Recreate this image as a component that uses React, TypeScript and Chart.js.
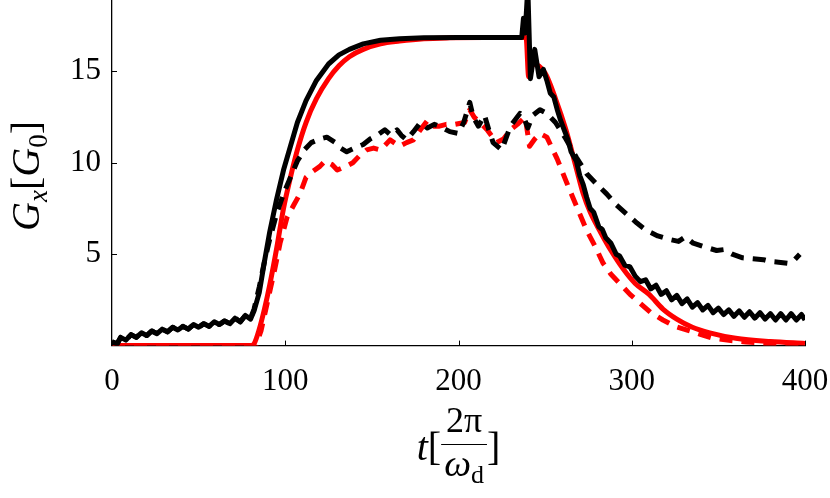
import React, { useEffect, useRef } from "react";
import { Chart, registerables } from "chart.js";

Chart.register(...registerables);

const xTicks = [0, 100, 200, 300, 400];
const yTicks = [5, 10, 15];
const xMin = 0;
const xMax = 400;
const yMin = 0;
const yMax = 18.9;

const blackSolidT = [
  0, 3, 5, 8, 11, 14, 17, 20, 23, 26, 29, 32, 35, 38, 41, 44, 47, 50, 53, 56, 59, 62, 65, 68, 71, 74, 77, 80,
  82, 85, 88, 91, 95, 99, 103, 107, 112, 118, 125, 131, 137, 145, 155, 166, 180, 200, 220, 236.5,
  237.5, 238.5, 240, 241.5, 244, 246.5, 249, 251, 253, 255, 257, 259, 261, 263, 265, 268, 270, 272, 274,
  276, 278, 281, 283, 285, 288, 291, 293, 296, 299,
  302, 305, 308, 311, 314, 317, 320, 323, 326, 329, 332, 335, 338, 341, 344, 347, 350, 353, 356, 359,
  362, 365, 368, 371, 374, 377, 380, 383, 386, 389, 392, 395, 398, 400,
];
const blackSolidV = [
  0.2, 0.1, 0.45, 0.3, 0.6, 0.45, 0.7, 0.55, 0.8, 0.65, 0.9, 0.75, 1.0, 0.85, 1.05, 0.9, 1.15, 1.0, 1.2, 1.05, 1.3, 1.15, 1.35, 1.2, 1.5, 1.3, 1.65, 1.45,
  1.9, 2.9, 4.6, 6.2, 8.0, 9.6, 10.9, 12.2, 13.4, 14.5, 15.4, 15.9, 16.2, 16.5, 16.7, 16.78, 16.83, 16.85, 16.85, 16.85,
  17.9, 17.1, 19.6, 14.6, 16.2, 14.7, 15.1, 14.5, 13.8, 13.6, 12.9, 12.3, 11.8, 11.3, 10.6, 10.1, 9.3, 8.8, 8.1,
  7.5, 7.3, 6.5, 6.35, 5.9, 5.6, 5.0, 4.9, 4.4, 4.3,
  3.8, 3.5, 3.6, 3.1, 3.3, 2.8, 3.0, 2.5, 2.75, 2.3, 2.55, 2.1, 2.35, 1.95, 2.2, 1.8, 2.05, 1.7, 1.95, 1.6,
  1.9, 1.55, 1.85, 1.5, 1.8, 1.45, 1.75, 1.4, 1.75, 1.4, 1.75, 1.4, 1.7, 1.4,
];

const redSolidT = [
  0, 80, 82, 85, 88, 91, 95, 99, 103, 107, 112, 118, 125, 131, 137, 145, 155, 166, 180, 195, 215, 239,
  240.5, 243, 250, 256, 262, 268, 272, 276, 282, 288, 295, 302, 310, 318, 326, 335, 345, 360, 380, 400,
];
const redSolidV = [
  0, 0, 0.1, 0.9, 2.0, 3.3, 5.3, 7.5, 9.2, 10.7, 12.2, 13.5, 14.6, 15.3, 15.8, 16.2, 16.5, 16.65, 16.78, 16.83, 16.85, 16.85,
  14.7, 15.4, 14.9, 13.5, 11.8, 9.7, 8.3, 7.3, 6.2, 5.2, 4.2, 3.4, 2.8, 2.0, 1.45, 1.0, 0.7, 0.4, 0.22, 0.12,
];

const blackDashedT = [
  0, 3, 5, 8, 11, 14, 17, 20, 23, 26, 29, 32, 35, 38, 41, 44, 47, 50, 53, 56, 59, 62, 65, 68, 71, 74, 77, 80,
  82, 85, 88, 91, 95, 99, 103, 107, 111, 115, 120, 124, 129, 132, 135.5, 140, 145, 149, 153, 157.5, 161,
  164.5, 167, 170, 174, 178, 182, 186, 189, 195, 200, 203, 206.5, 208.5, 211.5, 215, 217.5, 220, 225, 228,
  230, 235.5, 238, 240, 243, 247, 251, 256, 262, 268, 274, 280, 285.5, 291, 297, 303, 308.5, 315, 322,
  327, 331, 335.5, 342, 349, 353, 358, 364, 370, 376, 380, 386, 390, 393, 397,
];
const blackDashedV = [
  0.2, 0.1, 0.45, 0.3, 0.6, 0.45, 0.7, 0.55, 0.8, 0.65, 0.9, 0.75, 1.0, 0.85, 1.05, 0.9, 1.15, 1.0, 1.2, 1.05, 1.3, 1.15, 1.35, 1.2, 1.5, 1.3, 1.65, 1.5,
  2.0, 3.2, 4.6, 5.8, 7.2, 8.3, 9.2, 10.1, 10.7, 11.1, 11.3, 11.4, 11.1, 10.8, 10.6, 10.8, 11.0, 11.3, 11.5, 11.8, 11.5,
  11.8, 11.5, 11.25, 11.7, 12.2, 11.9, 12.1, 12.0, 11.7, 11.6, 12.2, 13.3, 12.5, 12.0, 12.6, 11.8, 11.1, 10.7, 11.5,
  12.0, 12.7, 12.4, 11.9, 12.6, 12.9, 12.7, 12.2, 11.3, 10.3, 9.4, 8.8, 8.3, 7.7, 7.2, 6.7, 6.3, 6.0, 5.8,
  5.7, 5.95, 5.6, 5.4, 5.2, 5.25, 5.0, 4.8, 4.75, 4.7, 4.6, 4.55, 4.5, 4.6, 5.0,
];

const redDashedT = [
  0, 83, 86, 90, 94, 97, 101, 105, 108.5, 112, 115.5, 120, 123, 127, 130, 135, 139, 143, 147, 151, 155,
  160.5, 166, 170, 174, 178, 182, 186, 189, 193, 198, 203.5, 206.5, 209, 212.5, 216.5, 222, 226, 230, 234,
  238.5, 241, 244, 247, 251, 257, 262.5, 266, 270, 274, 279, 283.5, 288, 293, 299, 305, 311, 318, 325,
  332, 340, 347, 355, 366, 380, 397,
];
const redDashedV = [
  0, 0, 0.8, 2.5, 4.2, 5.6, 7.0, 7.7, 8.3, 9.2, 9.5, 9.8, 10.1, 9.9, 9.6, 9.8, 10.0, 10.4, 10.7, 10.8, 10.7,
  11.25, 10.9, 11.1, 11.25, 11.8, 12.3, 12.0, 12.0, 12.1, 12.1, 12.2, 12.9, 12.5, 12.2, 11.8, 11.1, 11.3, 11.8, 12.1,
  12.5, 10.9, 11.3, 11.6, 11.4, 10.2, 8.9, 8.1, 7.2, 6.3, 5.4, 4.5, 3.9, 3.4, 2.8, 2.3, 1.8, 1.4, 1.05,
  0.85, 0.6, 0.4, 0.3, 0.2, 0.1, 0.05,
];

const FONT = "'Liberation Serif', 'Times New Roman', serif";

function pts(t: number[], v: number[]) {
  return t.map((x, i) => ({ x, y: v[i] }));
}

type Piece = { text: string; font: string; dy?: number };

function piecesWidth(ctx: CanvasRenderingContext2D, pieces: Piece[]) {
  let w = 0;
  for (const p of pieces) {
    ctx.font = p.font;
    w += ctx.measureText(p.text).width;
  }
  return w;
}

function drawPieces(ctx: CanvasRenderingContext2D, pieces: Piece[], x0: number, baseline: number) {
  let x = x0;
  for (const p of pieces) {
    ctx.font = p.font;
    ctx.fillText(p.text, x, baseline + (p.dy || 0));
    x += ctx.measureText(p.text).width;
  }
  return x;
}

const decorPlugin = {
  id: "decor",
  afterDraw(chart: any) {
    const { ctx, chartArea, scales } = chart;
    const xs = scales.x;
    const ys = scales.y;
    ctx.save();
    ctx.strokeStyle = "#000";
    ctx.lineWidth = 1;
    for (const v of yTicks) {
      const y = Math.round(ys.getPixelForValue(v)) + 0.5;
      ctx.beginPath();
      ctx.moveTo(chartArea.left, y);
      ctx.lineTo(chartArea.left + 5, y);
      ctx.stroke();
    }
    for (const v of xTicks) {
      const x = Math.round(xs.getPixelForValue(v)) + 0.5;
      ctx.beginPath();
      ctx.moveTo(x, chartArea.bottom);
      ctx.lineTo(x, chartArea.bottom - 5);
      ctx.stroke();
    }

    ctx.fillStyle = "#000";
    ctx.textAlign = "left";
    ctx.textBaseline = "alphabetic";

    // y title: G_x[G_0], rotated
    const yPieces: Piece[] = [
      { text: "G", font: `italic 40px ${FONT}` },
      { text: "x", font: `italic 27px ${FONT}`, dy: 8 },
      { text: "[", font: `40px ${FONT}` },
      { text: "G", font: `italic 40px ${FONT}` },
      { text: "0", font: `27px ${FONT}`, dy: 8 },
      { text: "]", font: `40px ${FONT}` },
    ];
    ctx.save();
    ctx.translate(39, 176);
    ctx.rotate(-Math.PI / 2);
    const yw = piecesWidth(ctx, yPieces);
    drawPieces(ctx, yPieces, -yw / 2, 0);
    ctx.restore();

    // x title: t[2π/ω_d]
    const cx = (chartArea.left + chartArea.right) / 2;
    const left: Piece[] = [
      { text: "t", font: `italic 40px ${FONT}` },
      { text: "[", font: `40px ${FONT}` },
    ];
    const num: Piece[] = [{ text: "2π", font: `36px ${FONT}` }];
    const den: Piece[] = [
      { text: "ω", font: `italic 38px ${FONT}` },
      { text: "d", font: `26px ${FONT}`, dy: 7 },
    ];
    const right: Piece[] = [{ text: "]", font: `40px ${FONT}` }];
    const lw = piecesWidth(ctx, left);
    const nw = piecesWidth(ctx, num);
    const dw = piecesWidth(ctx, den);
    const fw = Math.max(nw, dw) + 6;
    const rw = piecesWidth(ctx, right);
    const total = lw + fw + rw;
    const base = 460;
    let x = cx - total / 2;
    x = drawPieces(ctx, left, x, base);
    drawPieces(ctx, num, x + (fw - nw) / 2, 432);
    ctx.lineWidth = 1.2;
    ctx.beginPath();
    ctx.moveTo(x, 444.5);
    ctx.lineTo(x + fw, 444.5);
    ctx.stroke();
    drawPieces(ctx, den, x + (fw - dw) / 2, 476);
    x += fw;
    drawPieces(ctx, right, x, base);
    ctx.restore();
  },
};

function zeroPad(scale: any) {
  scale.paddingTop = 0;
  scale.paddingBottom = 0;
  scale.paddingLeft = 0;
  scale.paddingRight = 0;
}

export default function App() {
  const ref = useRef<HTMLCanvasElement | null>(null);
  useEffect(() => {
    if (!ref.current) return;
    const common = { pointRadius: 0, borderWidth: 5, fill: false, borderJoinStyle: "round" as const, borderCapStyle: "butt" as const };
    const chart = new Chart(ref.current, {
      type: "line",
      data: {
        datasets: [
          { label: "black solid", data: pts(blackSolidT, blackSolidV), borderColor: "#000", tension: 0, ...common },
          { label: "black dashed", data: pts(blackDashedT, blackDashedV), borderColor: "#000", borderDash: [13, 9], tension: 0, ...common },
          { label: "red solid", data: pts(redSolidT, redSolidV), borderColor: "#ff0000", cubicInterpolationMode: "monotone", ...common },
          { label: "red dashed", data: pts(redDashedT, redDashedV), borderColor: "#ff0000", borderDash: [13, 9], tension: 0, ...common },
        ],
      },
      options: {
        animation: false,
        responsive: false,
        events: [],
        layout: { padding: { left: 0, right: 25, top: 0, bottom: 0 } },
        plugins: { legend: { display: false }, tooltip: { enabled: false } },
        scales: {
          x: {
            type: "linear",
            min: xMin,
            max: xMax,
            ticks: { stepSize: 100, color: "#000", font: { family: FONT, size: 31 }, padding: 18, maxRotation: 0 },
            grid: { display: true, drawOnChartArea: false, drawTicks: false },
            border: { display: true, color: "#000", width: 1.3 },
            afterFit: (s: any) => { s.height = 152.4; zeroPad(s); },
          },
          y: {
            type: "linear",
            min: yMin,
            max: yMax,
            ticks: {
              stepSize: 5,
              color: "#000",
              font: { family: FONT, size: 31 },
              padding: 11,
              callback: (v: any) => (yTicks.includes(Number(v)) ? String(v) : ""),
            },
            grid: { display: true, drawOnChartArea: false, drawTicks: false },
            border: { display: true, color: "#000", width: 1.3 },
            afterFit: (s: any) => { s.width = 112; zeroPad(s); },
          },
        },
      },
      plugins: [decorPlugin],
    });
    return () => chart.destroy();
  }, []);
  return (
    <div style={{ position: "fixed", left: 0, top: 0, width: 830, height: 498, background: "#fff" }}>
      <canvas ref={ref} width={830} height={498} style={{ display: "block" }} />
    </div>
  );
}
